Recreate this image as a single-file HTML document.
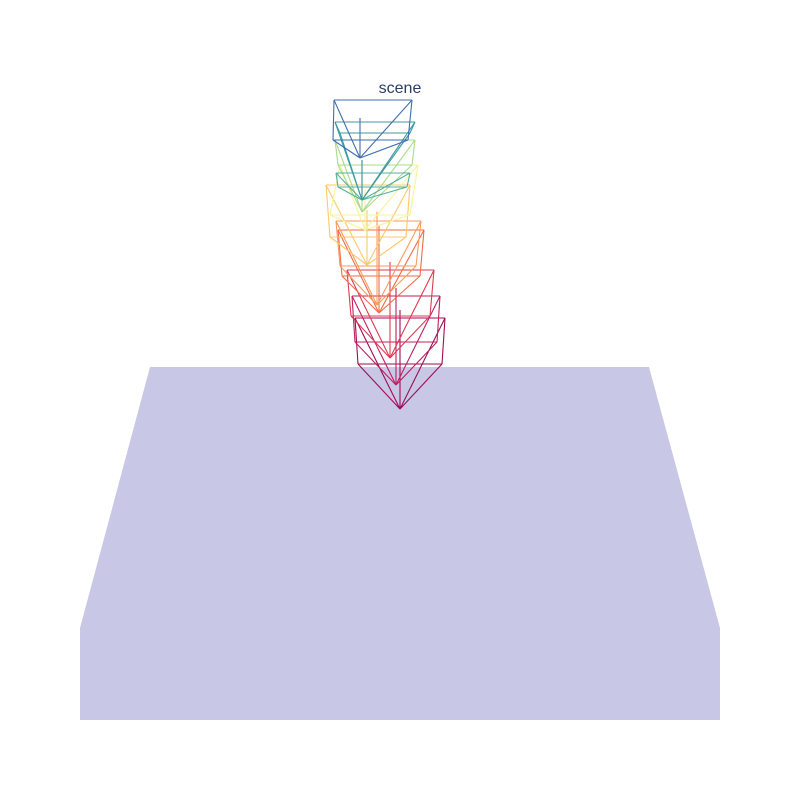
<!DOCTYPE html>
<html><head><meta charset="utf-8"><style>
html,body{margin:0;padding:0;background:#fff;width:800px;height:800px;overflow:hidden}
svg{display:block;font-family:"Liberation Sans",sans-serif}
</style></head><body>
<svg id="chart" width="800" height="800">
<rect width="800" height="800" fill="#fff"/>
<polygon points="150,367 649,367 720,628 720,720 80,720 80,628" fill="#c8c8e6"/>
<text x="400" y="93" text-anchor="middle" font-size="16" fill="#2a3f5f">scene</text>
<g id="frustums"></g>
</svg>
<script>
const apexX =  [360,362,362,362,365,367,377,379,390,396,400];
const apexY =  [158,200,200,212,230,265,305,313,358,385,409];
const backY =  [100,122,173,140,165,185,221,230,270,296,318];
const frontY = [140,133,187,165,215,237,266,276,316,342,364];
const backL =  [334,335,336,335,340,326,336,338,347,352,355];
const backR =  [412,415,410,415,418,410,421,424,434,440,445];
const frontL = [333,340,338,338,330,330,340,342,351,355,358];
const frontR = [408,410,407,412,410,406,416,420,430,437,442];
const upY =    [118,160,160,170,190,210,212,225,262,288,310];
const colors = ["#3e6fb0","#3f9a9f","#56b0a0","#a8dc8a","#f3f59a","#fdc86a","#fb9a5a","#f26b46","#dc3b50","#bd2060","#9e0b55"];
const g=document.getElementById('frustums');
const NS='http://www.w3.org/2000/svg';
function line(x1,y1,x2,y2,c,i){
  const l=document.createElementNS(NS,'line');
  l.setAttribute('x1',x1);l.setAttribute('y1',y1);l.setAttribute('x2',x2);l.setAttribute('y2',y2);
  l.setAttribute('stroke',c);l.setAttribute('stroke-width','1.1');
  
  
  g.appendChild(l);
}
for(let i=apexX.length-1;i>=0;i--){
  const c=colors[i],ax=apexX[i],ay=apexY[i];
  const pts=[[backL[i],backY[i]],[backR[i],backY[i]],[frontR[i],frontY[i]],[frontL[i],frontY[i]]];
  for(let k=0;k<4;k++){
    const a=pts[k],b=pts[(k+1)%4];
    line(a[0],a[1],b[0],b[1],c,i);
    line(ax,ay,a[0],a[1],c,i);
  }
  line(ax,ay,ax,upY[i],c,i);
}
</script>
</body></html>
